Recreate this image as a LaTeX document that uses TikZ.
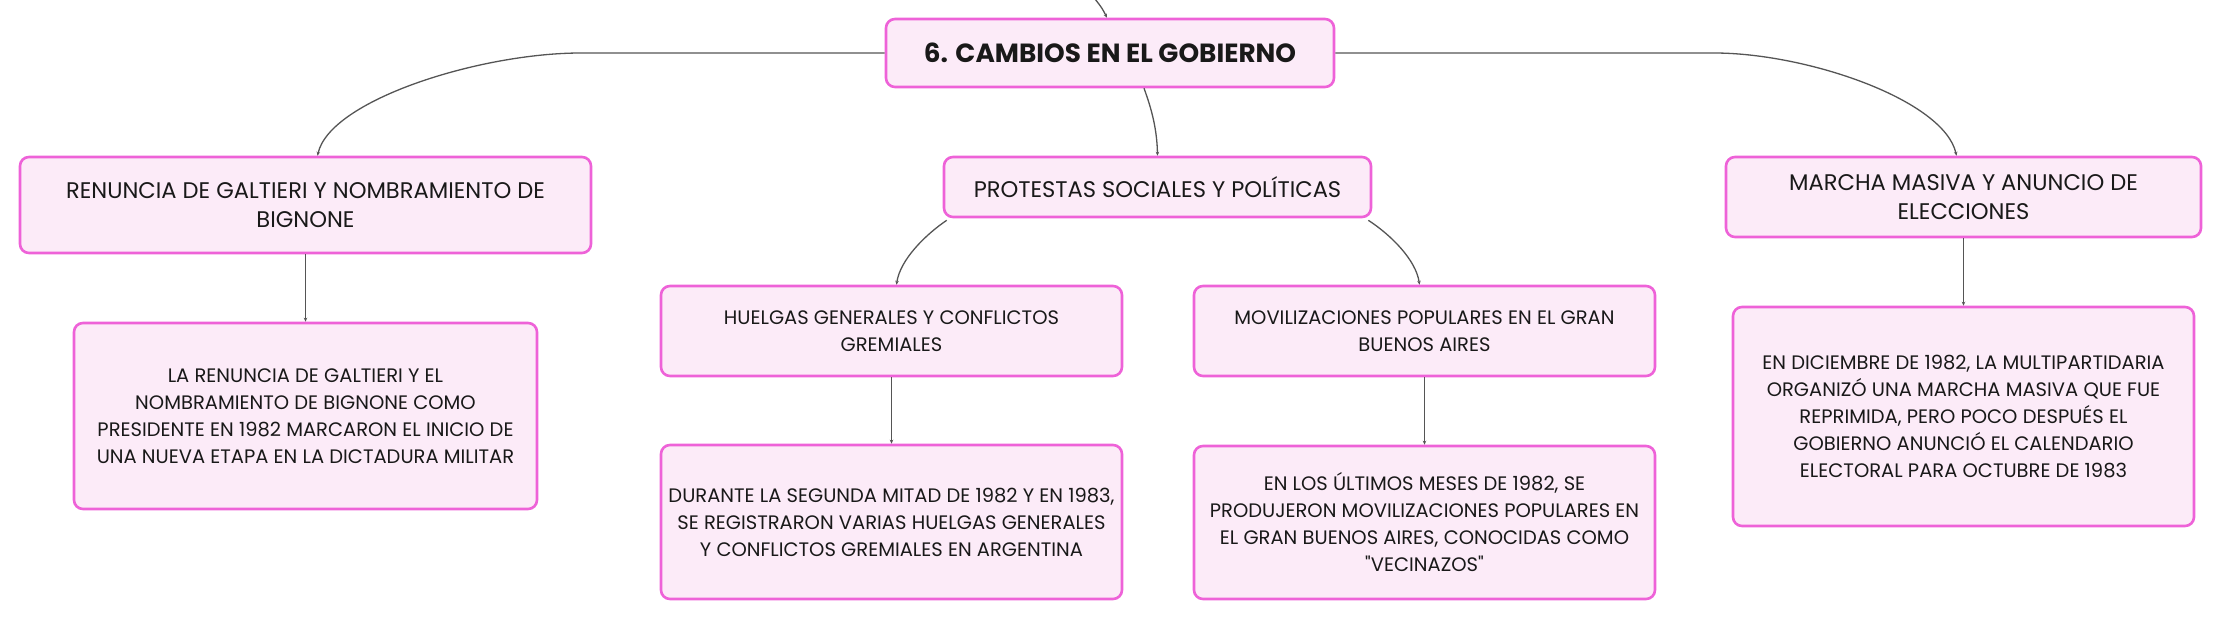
\documentclass[tikz,border=0pt]{standalone}
\usepackage{fontspec}
\setmainfont{Poppins}
\newfontfamily\plainquote{Poppins}
\usetikzlibrary{arrows.meta}
\definecolor{boxborder}{RGB}{238,98,216}
\definecolor{boxfill}{RGB}{252,235,248}
\definecolor{linkc}{RGB}{85,85,85}
\tikzset{
  mbox/.style={draw=boxborder, fill=boxfill, line width=2.6pt, rounded corners=9pt,
    rectangle, align=center, inner sep=0pt, text=black!90},
  lvone/.style={mbox, font=\fontsize{26.3}{30}\selectfont\bfseries},
  lvtwo/.style={mbox, font=\fontsize{22.6}{29}\selectfont},
  lvthree/.style={mbox, font=\fontsize{19.5}{27}\selectfont},
  link/.style={draw=linkc, line width=1.3pt, -{Stealth[length=4pt,width=3.5pt]}},
}
\begin{document}
\begin{tikzpicture}[x=1pt,y=-1pt]
\useasboundingbox (0,0) rectangle (2222,620);
\node[lvone, minimum width=448, minimum height=68] (root) at (1110,53) {6. CAMBIOS EN EL GOBIERNO};
\node[lvtwo, minimum width=571, minimum height=96] (renun) at (305.5,205) {RENUNCIA DE GALTIERI Y NOMBRAMIENTO DE\\BIGNONE};
\node[lvtwo, minimum width=427, minimum height=60] (prot) at (1157.5,187) {PROTESTAS SOCIALES Y POLÍTICAS};
\node[lvtwo, minimum width=475, minimum height=80] (marcha) at (1963.5,197) {MARCHA MASIVA Y ANUNCIO DE\\ELECCIONES};
\node[lvthree, minimum width=463, minimum height=186] (larenun) at (305.5,416) {LA RENUNCIA DE GALTIERI Y EL\\NOMBRAMIENTO DE BIGNONE COMO\\PRESIDENTE EN 1982 MARCARON EL INICIO DE\\UNA NUEVA ETAPA EN LA DICTADURA MILITAR};
\node[lvthree, minimum width=461, minimum height=90] (huelgas) at (891.5,331) {HUELGAS GENERALES Y CONFLICTOS\\GREMIALES};
\node[lvthree, minimum width=461, minimum height=90] (movil) at (1424.5,331) {MOVILIZACIONES POPULARES EN EL GRAN\\BUENOS AIRES};
\node[lvthree, minimum width=461, minimum height=154] (durante) at (891.5,522) {DURANTE LA SEGUNDA MITAD DE 1982 Y EN 1983,\\SE REGISTRARON VARIAS HUELGAS GENERALES\\Y CONFLICTOS GREMIALES EN ARGENTINA};
\node[lvthree, minimum width=461, minimum height=153] (enlos) at (1424.5,522.5) {EN LOS ÚLTIMOS MESES DE 1982, SE\\PRODUJERON MOVILIZACIONES POPULARES EN\\EL GRAN BUENOS AIRES, CONOCIDAS COMO\\{\plainquote"}VECINAZOS{\plainquote"}};
\node[lvthree, minimum width=461, minimum height=219] (endic) at (1963.5,416.5) {EN DICIEMBRE DE 1982, LA MULTIPARTIDARIA\\ORGANIZÓ UNA MARCHA MASIVA QUE FUE\\REPRIMIDA, PERO POCO DESPUÉS EL\\GOBIERNO ANUNCIÓ EL CALENDARIO\\ELECTORAL PARA OCTUBRE DE 1983};
\coordinate (parent) at (1095,-1);
\coordinate (lbend) at (581,53);
\coordinate (rbend) at (1714,53);
% connectors
\draw[link] (parent) .. controls (1102,8) .. ([xshift=-3]root.north);
\draw[link] (root.west) -- (lbend) .. controls (480,53) and (330,100) .. ([xshift=12]renun.north);
\draw[link] (root.east) -- (rbend) .. controls (1807,53) and (1944,100) .. ([xshift=-7]marcha.north);
\draw[link] ([xshift=34]root.south) .. controls (1152,110) and (1157,130) .. (prot.north);
\draw[link] ([xshift=4,yshift=-2]prot.south west) .. controls (925,235) and (900,260) .. ([xshift=5]huelgas.north);
\draw[link] ([xshift=-4,yshift=-2]prot.south east) .. controls (1391,235) and (1416,260) .. ([xshift=-5]movil.north);
\draw[link] (renun.south) -- (larenun.north);
\draw[link] (huelgas.south) -- (durante.north);
\draw[link] (movil.south) -- (enlos.north);
\draw[link] (marcha.south) -- (endic.north);
\end{tikzpicture}
\end{document}
